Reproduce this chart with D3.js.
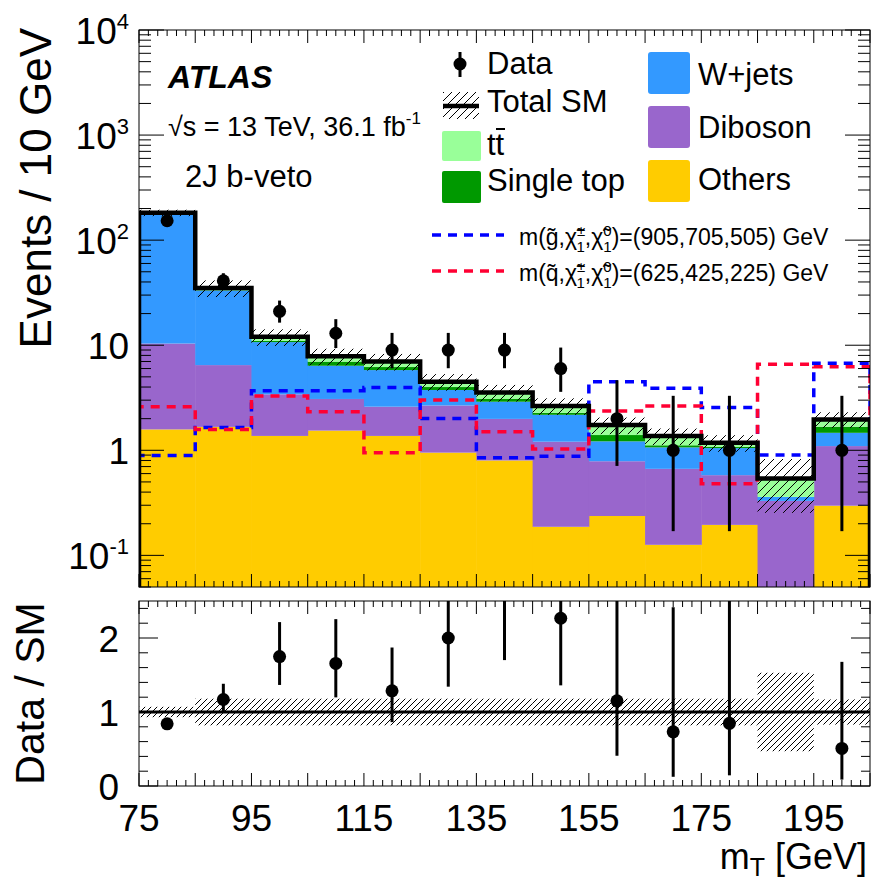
<!DOCTYPE html>
<html>
<head>
<meta charset="utf-8">
<script src="https://cdn.jsdelivr.net/npm/d3@7"></script>
<style>
  body { margin: 0; background: #fff; }
  svg { display: block; }
  text { font-family: "Liberation Sans", Arial, Helvetica, sans-serif; fill: #000; }
</style>
</head>
<body>
<svg id="chart" width="875" height="880"></svg>
<script>
// ---- m_T binning (GeV), 10 GeV bins ----
const binLow = [75, 85, 95, 105, 115, 125, 135, 145, 155, 165, 175, 185, 195];
const binWidth = 10;

// ---- SM background expectations per bin (events / 10 GeV) ----
const others    = [1.58, 1.67, 1.37, 1.54, 1.37, 0.95, 0.80, 0.187, 0.237, 0.126, 0.195, 0, 0.297];
const diboson   = [8.8, 4.8, 2.04, 1.54, 1.23, 1.72, 1.19, 1.02, 0.55, 0.54, 0.385, 0.33, 0.80];
const wjets     = [169, 26.7, 7.3, 3.3, 3.2, 1.08, 0.91, 0.97, 0.43, 0.40, 0.47, 0.03, 0.37];
const singleTop = [0.8, 0.3, 0.3, 0.6, 0.4, 0.25, 0.2, 0.1, 0.18, 0.05, 0.03, 0, 0.21];
const ttbar     = [1.8, 1.6, 1.0, 0.87, 0.8, 0.5, 0.45, 0.37, 0.34, 0.25, 0.1, 0.18, 0.29];

// relative total uncertainty on the SM prediction
const smRelUnc  = [0.07, 0.18, 0.18, 0.18, 0.18, 0.18, 0.18, 0.18, 0.18, 0.18, 0.18, 0.53, 0.17];

// ---- observed data with asymmetric Poisson errors ----
const dataCounts  = [153, 41, 21, 13, 9, 9, 9, 6, 2, 1, 1, null, 1];
const dataErrLow  = [12.4, 6.4, 4.6, 3.6, 2.96, 2.96, 2.96, 2.4, 1.29, 0.83, 0.83, null, 0.83];
const dataErrHigh = [13.4, 7.45, 5.6, 4.7, 4.1, 4.1, 4.1, 3.5, 2.64, 2.30, 2.30, null, 2.30];

// ---- signal benchmarks ----
const sigGluino = [0.89, 1.65, 3.69, 3.69, 3.97, 2.01, 0.85, 0.88, 4.50, 3.89, 2.56, 0.90, 6.73];
const sigSquark = [2.60, 1.58, 3.29, 2.33, 0.95, 3.01, 1.50, 1.03, 2.37, 2.64, 0.48, 6.58, 6.24];

// ---- axis labels ----
const xTickLabels = [75, 95, 115, 135, 155, 175, 195];
const yDecades = [-1, 0, 1, 2, 3, 4];
const ratioTickLabels = [0, 1, 2];

// ---- styling ----
const colors = {
  others: "#ffcc00", diboson: "#9966cc", wjets: "#3399ff",
  singleTop: "#009900", ttbar: "#99ff99",
  gluino: "#0000ff", squark: "#ff0033"
};

const svg = d3.select("#chart");
const F = '"Liberation Sans", Arial, Helvetica, sans-serif';

// panel geometry
const L = 139, R = 870;
const mainTop = 30, mainBot = 587;
const ratTop = 601, ratBot = 786;

const x = d3.scaleLinear().domain([75, 205]).range([L, R]);
const yMin = 0.05, yMax = 1e4;
const y = d3.scaleLog().domain([yMin, yMax]).range([mainBot, mainTop]);
const yr = d3.scaleLinear().domain([0, 2.5]).range([ratBot, ratTop]);

// ---- defs: hatch patterns and clip paths ----
const defs = svg.append("defs");
function hatch(id, s) {
  defs.append("pattern").attr("id", id).attr("patternUnits", "userSpaceOnUse")
    .attr("width", s).attr("height", s)
    .append("path")
    .attr("d", `M-1,1 l2,-2 M0,${s} l${s},${-s} M${s - 1},${s + 1} l2,-2`)
    .attr("stroke", "#000").attr("stroke-width", 1).attr("fill", "none");
}
hatch("hatchMain", 9);
hatch("hatchRatio", 6);
hatch("hatchLeg", 8);
defs.append("clipPath").attr("id", "clipMain").append("rect")
  .attr("x", L).attr("y", mainTop).attr("width", R - L).attr("height", mainBot - mainTop);
defs.append("clipPath").attr("id", "clipRatio").append("rect")
  .attr("x", L).attr("y", ratTop).attr("width", R - L).attr("height", ratBot - ratTop);

// ---- stacked backgrounds ----
const keys = ["others", "diboson", "wjets", "singleTop", "ttbar"];
const rows = binLow.map((lo, i) => ({
  lo, others: others[i], diboson: diboson[i], wjets: wjets[i],
  singleTop: singleTop[i], ttbar: ttbar[i]
}));
const series = d3.stack().keys(keys)(rows);
const totals = rows.map(r => keys.reduce((s, k) => s + r[k], 0));
const clampY = v => y(Math.max(v, yMin));

const gMain = svg.append("g").attr("clip-path", "url(#clipMain)");
series.forEach(s => {
  gMain.append("g").selectAll("rect").data(s).join("rect")
    .attr("x", d => x(d.data.lo))
    .attr("width", x(binWidth + 75) - x(75) + 0.5)
    .attr("y", d => clampY(d[1]))
    .attr("height", d => Math.max(0, clampY(d[0]) - clampY(d[1])))
    .attr("fill", colors[s.key]);
});

// uncertainty band on total SM
gMain.append("g").selectAll("rect").data(binLow).join("rect")
  .attr("x", (lo) => x(lo))
  .attr("width", x(binWidth + 75) - x(75))
  .attr("y", (lo, i) => clampY(totals[i] * (1 + smRelUnc[i])))
  .attr("height", (lo, i) => clampY(totals[i] * (1 - smRelUnc[i])) - clampY(totals[i] * (1 + smRelUnc[i])))
  .attr("fill", "url(#hatchMain)");

// step outline helper, closing to the axis floor at both ends
function stepPath(vals) {
  const p = d3.path();
  p.moveTo(x(75), y(yMin));
  vals.forEach((v, i) => {
    p.lineTo(x(binLow[i]), clampY(v));
    p.lineTo(x(binLow[i] + binWidth), clampY(v));
  });
  p.lineTo(x(205), y(yMin));
  return p.toString();
}

// signal benchmarks
gMain.append("path").attr("d", stepPath(sigGluino)).attr("fill", "none")
  .attr("stroke", colors.gluino).attr("stroke-width", 3.5).attr("stroke-dasharray", "9,7");
gMain.append("path").attr("d", stepPath(sigSquark)).attr("fill", "none")
  .attr("stroke", colors.squark).attr("stroke-width", 3.5).attr("stroke-dasharray", "9,7");

// total SM line
gMain.append("path").attr("d", stepPath(totals)).attr("fill", "none")
  .attr("stroke", "#000").attr("stroke-width", 4.5).attr("stroke-linejoin", "miter");

// data points
const pts = binLow.map((lo, i) => ({
  xc: lo + binWidth / 2, n: dataCounts[i], lo: dataErrLow[i], hi: dataErrHigh[i], tot: totals[i]
})).filter(d => d.n !== null);

gMain.append("g").selectAll("line").data(pts).join("line")
  .attr("x1", d => x(d.xc)).attr("x2", d => x(d.xc))
  .attr("y1", d => clampY(d.n + d.hi)).attr("y2", d => clampY(d.n - d.lo))
  .attr("stroke", "#000").attr("stroke-width", 3);
gMain.append("g").selectAll("circle").data(pts).join("circle")
  .attr("cx", d => x(d.xc)).attr("cy", d => y(d.n)).attr("r", 6.5).attr("fill", "#000");

// ---- ratio panel ----
const gRat = svg.append("g").attr("clip-path", "url(#clipRatio)");
gRat.append("g").selectAll("rect").data(binLow).join("rect")
  .attr("x", lo => x(lo)).attr("width", x(binWidth + 75) - x(75))
  .attr("y", (lo, i) => yr(1 + smRelUnc[i]))
  .attr("height", (lo, i) => yr(1 - smRelUnc[i]) - yr(1 + smRelUnc[i]))
  .attr("fill", "url(#hatchRatio)");
gRat.append("line").attr("x1", L).attr("x2", R).attr("y1", yr(1)).attr("y2", yr(1))
  .attr("stroke", "#000").attr("stroke-width", 3);
gRat.append("g").selectAll("line").data(pts).join("line")
  .attr("x1", d => x(d.xc)).attr("x2", d => x(d.xc))
  .attr("y1", d => yr((d.n + d.hi) / d.tot)).attr("y2", d => yr((d.n - d.lo) / d.tot))
  .attr("stroke", "#000").attr("stroke-width", 3);
gRat.append("g").selectAll("circle").data(pts.filter(d => d.n / d.tot <= 2.5)).join("circle")
  .attr("cx", d => x(d.xc)).attr("cy", d => yr(d.n / d.tot)).attr("r", 6.5).attr("fill", "#000");

// ---- frames and ticks ----
const axes = svg.append("g").attr("stroke", "#000").attr("stroke-width", 1).attr("fill", "none");
function frame(t, b) {
  axes.append("rect").attr("x", L).attr("y", t).attr("width", R - L).attr("height", b - t);
}
frame(mainTop, mainBot);
frame(ratTop, ratBot);

function xTicks(t, b, majLen, minLen) {
  for (let v = 75; v <= 205.001; v += 10 / 6) {
    const isMaj = Math.abs((v - 75) / 10 - Math.round((v - 75) / 10)) < 1e-6;
    const len = isMaj ? majLen : minLen;
    const px = x(v);
    axes.append("line").attr("x1", px).attr("x2", px).attr("y1", b).attr("y2", b - len);
    axes.append("line").attr("x1", px).attr("x2", px).attr("y1", t).attr("y2", t + len);
  }
}
xTicks(mainTop, mainBot, 13, 6);
xTicks(ratTop, ratBot, 13, 6);

// log ticks on main y axis
yDecades.forEach(e => {
  for (let m = 1; m <= 9; m++) {
    const v = m * Math.pow(10, e);
    if (v < yMin || v > yMax) continue;
    const len = m === 1 ? 25 : 12;
    const py = y(v);
    axes.append("line").attr("x1", L).attr("x2", L + len).attr("y1", py).attr("y2", py);
    axes.append("line").attr("x1", R).attr("x2", R - len).attr("y1", py).attr("y2", py);
  }
});
[0.05, 0.06, 0.07, 0.08, 0.09].forEach(v => {
  const py = y(v);
  axes.append("line").attr("x1", L).attr("x2", L + 12).attr("y1", py).attr("y2", py);
  axes.append("line").attr("x1", R).attr("x2", R - 12).attr("y1", py).attr("y2", py);
});

// ratio y ticks
for (let k = 0; k <= 12; k++) {
  const v = k * 0.2;
  const isMaj = Math.abs(v - Math.round(v)) < 1e-6;
  const len = isMaj ? 19 : 9;
  const py = yr(v);
  axes.append("line").attr("x1", L).attr("x2", L + len).attr("y1", py).attr("y2", py);
  axes.append("line").attr("x1", R).attr("x2", R - len).attr("y1", py).attr("y2", py);
}

// ---- tick labels ----
const labels = svg.append("g").attr("font-family", F);
xTickLabels.forEach(v => {
  labels.append("text").attr("x", x(v)).attr("y", 831).attr("text-anchor", "middle")
    .attr("font-size", 37).text(v);
});
yDecades.forEach(e => {
  const t = labels.append("text").attr("x", 129).attr("y", y(Math.pow(10, e)) + 14)
    .attr("text-anchor", "end").attr("font-size", 37);
  if (e === 0) t.text("1");
  else if (e === 1) t.text("10");
  else {
    t.append("tspan").text("10");
    t.append("tspan").attr("font-size", 22).attr("dy", -15).text(e);
  }
});
ratioTickLabels.forEach(v => {
  labels.append("text").attr("x", 119).attr("y", yr(v) + 14).attr("text-anchor", "end")
    .attr("font-size", 37).text(v);
});

// axis titles
labels.append("text").attr("transform", "translate(51,28) rotate(-90)")
  .attr("text-anchor", "end").attr("font-size", 44).text("Events / 10 GeV");
labels.append("text").attr("transform", `translate(44,${(ratTop + ratBot) / 2}) rotate(-90)`)
  .attr("text-anchor", "middle").attr("font-size", 41).text("Data / SM");
const xt = labels.append("text").attr("x", 867).attr("y", 869).attr("text-anchor", "end").attr("font-size", 36);
xt.append("tspan").text("m");
xt.append("tspan").attr("font-size", 25).attr("dy", 7).text("T");
xt.append("tspan").attr("dy", -7).text(" [GeV]");

// ---- annotations ----
labels.append("text").attr("x", 168).attr("y", 88).attr("font-size", 32)
  .attr("font-weight", "bold").attr("font-style", "italic").text("ATLAS");
const lumi = labels.append("text").attr("x", 168).attr("y", 136).attr("font-size", 27);
lumi.append("tspan").text("√s = 13 TeV, 36.1 fb");
lumi.append("tspan").attr("font-size", 17).attr("dy", -12).text("-1");
labels.append("text").attr("x", 185).attr("y", 187).attr("font-size", 31).text("2J b-veto");

// ---- legend ----
const leg = svg.append("g").attr("font-family", F).attr("font-size", 31);
// Data
leg.append("line").attr("x1", 460).attr("x2", 460).attr("y1", 52).attr("y2", 77)
  .attr("stroke", "#000").attr("stroke-width", 3);
leg.append("circle").attr("cx", 460).attr("cy", 64).attr("r", 6.5).attr("fill", "#000");
leg.append("text").attr("x", 487).attr("y", 74).text("Data");
// Total SM
leg.append("rect").attr("x", 443).attr("y", 92).attr("width", 36).attr("height", 27).attr("fill", "url(#hatchLeg)");
leg.append("line").attr("x1", 443).attr("x2", 479).attr("y1", 106).attr("y2", 106)
  .attr("stroke", "#000").attr("stroke-width", 4.5);
leg.append("text").attr("x", 487).attr("y", 112).text("Total SM");
// ttbar
leg.append("rect").attr("x", 442).attr("y", 131).attr("width", 39).attr("height", 30).attr("rx", 2)
  .attr("fill", colors.ttbar);
leg.append("text").attr("x", 487).attr("y", 155).text("tt");
leg.append("line").attr("x1", 496).attr("x2", 505).attr("y1", 129).attr("y2", 129)
  .attr("stroke", "#000").attr("stroke-width", 2);
// single top
leg.append("rect").attr("x", 442).attr("y", 171).attr("width", 39).attr("height", 32).attr("rx", 2)
  .attr("fill", colors.singleTop);
leg.append("text").attr("x", 487).attr("y", 191).text("Single top");
// right column
[["W+jets", colors.wjets, 52, 85], ["Diboson", colors.diboson, 106, 138], ["Others", colors.others, 160, 190]]
  .forEach(([name, c, top, base]) => {
    leg.append("rect").attr("x", 648).attr("y", top).attr("width", 42).attr("height", 42).attr("rx", 3).attr("fill", c);
    leg.append("text").attr("x", 698).attr("y", base).text(name);
  });

// signal legend entries
function sigEntry(yLine, base, color, sparticle, masses) {
  leg.append("line").attr("x1", 432).attr("x2", 504).attr("y1", yLine).attr("y2", yLine)
    .attr("stroke", color).attr("stroke-width", 3.5).attr("stroke-dasharray", "9,7");
  const t = leg.append("text").attr("x", 519).attr("y", base).attr("font-size", 23);
  t.append("tspan").text("m(" + sparticle + ",χ\u0303");
  t.append("tspan").attr("font-size", 15).attr("dy", -9).text("±");
  t.append("tspan").attr("font-size", 15).attr("dx", -8.8).attr("dy", 16).text("1");
  t.append("tspan").attr("dy", -7).text(",χ\u0303");
  t.append("tspan").attr("font-size", 15).attr("dy", -9).text("0");
  t.append("tspan").attr("font-size", 15).attr("dx", -8.3).attr("dy", 16).text("1");
  t.append("tspan").attr("dy", -7).text(")=(" + masses + ") GeV");
}
sigEntry(235, 245, colors.gluino, "g\u0303", "905,705,505");
sigEntry(271, 281, colors.squark, "q\u0303", "625,425,225");
</script>
</body>
</html>
